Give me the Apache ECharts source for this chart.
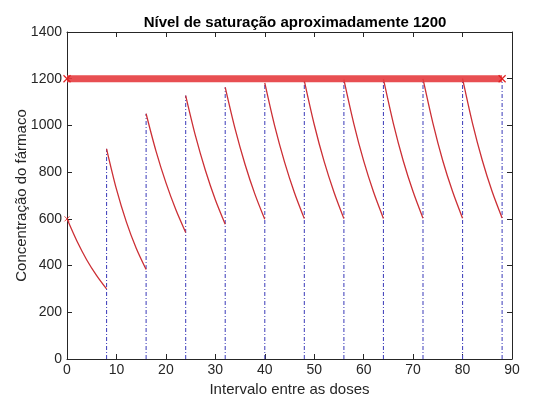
<!DOCTYPE html>
<html><head><meta charset="utf-8">
<script src="https://cdn.jsdelivr.net/npm/echarts@6/dist/echarts.min.js"></script>
<style>html,body{margin:0;padding:0;background:#fff}#c{width:533px;height:399px}</style>
</head><body><div id="c"></div>
<script>
// Dose start times for each decay segment
const segStart = [0, 8, 16, 24, 32, 40, 48, 56, 64, 72, 80];
// Offsets inside each 8-unit interval where the curve was read
const segOffsets = [0, 2, 4, 6, 8];
// Concentration read at each offset, one row per segment
const segValues = [
  [600, 505, 424, 357, 300],
  [900, 727, 587, 474, 383],
  [1050, 890, 755, 640, 542],
  [1128, 954, 807, 682, 577],
  [1163, 985, 834, 706, 598],
  [1182, 998, 843, 712, 601],
  [1191, 1004, 846, 714, 601],
  [1196, 1008, 848, 715, 602],
  [1198, 1009, 849, 716, 603],
  [1199, 1010, 849, 716, 603],
  [1200, 1010, 850, 716, 604]
];
// Vertical dotted dose lines: x position and top value
const doseX = [8, 16, 24, 32, 40, 48, 56, 64, 72, 80, 88];
const doseTop = [900, 1050, 1128, 1163, 1182, 1191, 1196, 1198, 1199, 1200, 1200];
// Saturation level marker band
const satX = [0, 88];
const satLevel = 1200;
const xTicks = [0, 10, 20, 30, 40, 50, 60, 70, 80, 90];
const yTicks = [0, 200, 400, 600, 800, 1000, 1200, 1400];

const txt = '#262626';
const font = 'Liberation Sans, Arial, Helvetica, sans-serif';
const xMark = 'path://M0,0L10,10M10,0L0,10';
const series = [];

series.push({
  type: 'line', silent: true, z: 5,
  data: satX.map(x => [x, satLevel]),
  symbol: xMark, symbolSize: 7,
  itemStyle: {color: 'none', borderColor: '#e02020', borderWidth: 1.2},
  lineStyle: {color: '#e63c3f', width: 7, opacity: 0.9}
});

doseX.forEach((x, i) => {
  series.push({
    type: 'line', silent: true, symbol: 'none', z: 3,
    data: [[x, 0], [x, doseTop[i]]],
    lineStyle: {color: '#4b4bbf', width: 1.1, type: [4, 2, 1, 2]}
  });
});

segStart.forEach((t, i) => {
  series.push({
    type: 'line', silent: true, symbol: 'none', z: 4,
    smooth: 0.3,
    data: segOffsets.map((o, j) => [t + o, segValues[i][j]]),
    lineStyle: {color: '#cc2f35', width: 1.3}
  });
});
series.push({
  type: 'scatter', silent: true, z: 6, data: [[0, 600]],
  symbol: xMark, symbolSize: 5,
  itemStyle: {color: 'none', borderColor: '#e02020', borderWidth: 1}
});

const tickCommon = {show: true, inside: true, length: 5, lineStyle: {color: txt}};
const chart = echarts.init(document.getElementById('c'), null, {renderer: 'canvas'});
chart.setOption({
  animation: false,
  backgroundColor: '#fff',
  title: {
    text: 'Nível de saturação aproximadamente 1200', left: 290, top: 10, textAlign: 'center',
    textStyle: {fontFamily: font, fontSize: 15, fontWeight: 'bold', color: '#000'}
  },
  grid: {left: 67, right: 21, top: 32, bottom: 40, containLabel: false, outerBoundsMode: 'none'},
  xAxis: [{
    type: 'value', position: 'bottom', min: 0, max: 90, interval: 10,
    name: 'Intervalo entre as doses', nameLocation: 'middle', nameGap: 23, nameMoveOverlap: false,
    nameTextStyle: {fontFamily: font, fontSize: 15, color: txt},
    axisLine: {show: true, onZero: false, lineStyle: {color: txt}},
    axisTick: tickCommon,
    axisLabel: {fontFamily: font, fontSize: 14, color: txt, margin: 4,
      formatter: v => xTicks.includes(v) ? String(v) : ''},
    splitLine: {show: false}
  }, {
    type: 'value', position: 'top', min: 0, max: 90, interval: 10,
    axisLine: {show: true, onZero: false, lineStyle: {color: txt}},
    axisTick: tickCommon,
    axisLabel: {show: false}, splitLine: {show: false}
  }],
  yAxis: [{
    type: 'value', position: 'left', min: 0, max: 1400, interval: 200,
    name: 'Concentração do fármaco', nameLocation: 'middle', nameGap: 38, nameMoveOverlap: false,
    nameTextStyle: {fontFamily: font, fontSize: 15, color: txt},
    axisLine: {show: true, onZero: false, lineStyle: {color: txt}},
    axisTick: tickCommon,
    axisLabel: {fontFamily: font, fontSize: 14, color: txt, margin: 5,
      formatter: v => yTicks.includes(v) ? String(v) : ''},
    splitLine: {show: false}
  }, {
    type: 'value', position: 'right', min: 0, max: 1400, interval: 200,
    axisLine: {show: true, onZero: false, lineStyle: {color: txt}},
    axisTick: tickCommon,
    axisLabel: {show: false}, splitLine: {show: false}
  }],
  series: series
});
</script></body></html>
